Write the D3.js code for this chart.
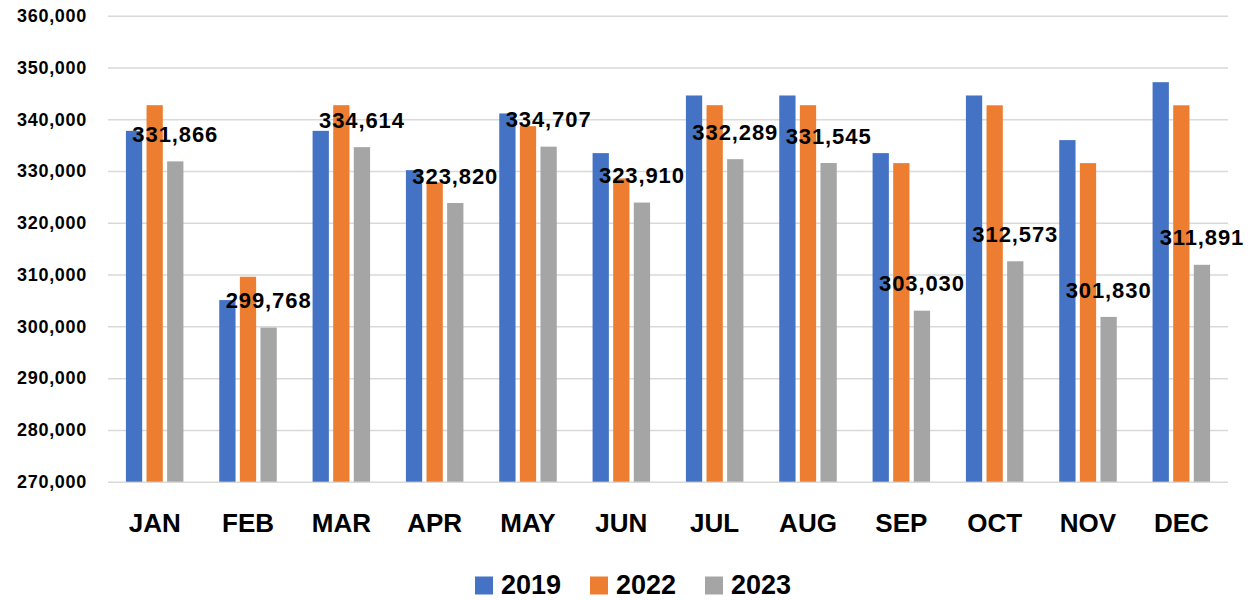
<!DOCTYPE html>
<html>
<head>
<meta charset="utf-8">
<script src="https://cdn.jsdelivr.net/npm/d3@7"></script>
<style>
  html, body { margin: 0; padding: 0; background: #fff; }
  svg { display: block; font-family: "Liberation Sans", Arial, sans-serif; }
</style>
</head>
<body>
<svg id="chart" width="1254" height="600"></svg>
<script>
const months = ["JAN","FEB","MAR","APR","MAY","JUN","JUL","AUG","SEP","OCT","NOV","DEC"];
const seriesNames = ["2019","2022","2023"];
const values2019 = [337760,305080,337760,330170,341120,333460,344590,344590,333460,344590,335970,347160];
const values2022 = [342720,309580,342720,327800,338670,328570,342720,342720,331530,342700,331530,342700];
const values2023 = [331866,299768,334614,323820,334707,323910,332289,331545,303030,312573,301830,311891];
const yTicks = [270000,280000,290000,300000,310000,320000,330000,340000,350000,360000];
const colors = ["#4472C4","#ED7D31","#A5A5A5"];

const seriesValues = [values2019, values2022, values2023];
const svg = d3.select("#chart");

const x0 = d3.scaleBand().domain(months).range([108, 1228]).paddingInner(0.384).paddingOuter(0.192);
const x1 = d3.scaleBand().domain(seriesNames).range([0, x0.bandwidth()]).paddingInner(0.21).paddingOuter(0);
const y = d3.scaleLinear().domain([270000, 360000]).range([481.7, 15.7]);
const fmt = d3.format(",");

// gridlines
const yAxis = d3.axisLeft(y).tickValues(yTicks).tickSize(-(1228 - 108)).tickFormat(fmt).tickPadding(21);
const gy = svg.append("g").attr("transform", "translate(108,0)").call(yAxis);
gy.select(".domain").remove();
gy.selectAll(".tick line").attr("stroke", "#d9d9d9").attr("stroke-width", 1.5);
gy.selectAll(".tick text")
  .attr("fill", "#000")
  .style("font-size", "18px")
  .style("font-weight", "bold")
  .style("letter-spacing", "0.7px")
  .style("font-family", "'Liberation Sans', Arial, sans-serif");

// bars
const groups = svg.append("g").selectAll("g")
  .data(months)
  .join("g")
  .attr("transform", d => `translate(${x0(d)},0)`);

groups.selectAll("rect")
  .data((m, i) => seriesNames.map((s, k) => ({ s, k, v: seriesValues[k][i] })))
  .join("rect")
  .attr("x", d => x1(d.s))
  .attr("width", x1.bandwidth())
  .attr("y", d => y(d.v))
  .attr("height", d => y(270000) - y(d.v))
  .attr("fill", d => colors[d.k]);

// x axis
const xAxis = d3.axisBottom(x0).tickSize(0).tickPadding(0);
const gx = svg.append("g").attr("transform", "translate(0,481.7)").call(xAxis);
gx.select(".domain").remove();
gx.selectAll(".tick text")
  .attr("y", 41)
  .attr("dy", "0.35em")
  .attr("fill", "#000")
  .style("font-size", "26px")
  .style("font-weight", "bold")
  .style("font-family", "'Liberation Sans', Arial, sans-serif");

// data labels for 2023
svg.append("g").selectAll("text")
  .data(months)
  .join("text")
  .attr("x", (m) => x0(m) + x1("2023") + x1.bandwidth() / 2)
  .attr("y", (m, i) => y(values2023[i]) - 27)
  .attr("dy", "0.35em")
  .attr("text-anchor", "middle")
  .attr("fill", "#000")
  .style("font-size", "22px")
  .style("font-weight", "bold")
  .style("letter-spacing", "0.9px")
  .text((m, i) => fmt(values2023[i]));

// legend
const legendX = [475, 590, 705];
const leg = svg.append("g").selectAll("g")
  .data(seriesNames)
  .join("g")
  .attr("transform", (d, i) => `translate(${legendX[i]},0)`);
leg.append("rect").attr("x", 0).attr("y", 576.5).attr("width", 18).attr("height", 18).attr("fill", (d, i) => colors[i]);
leg.append("text").attr("x", 26).attr("y", 585).attr("dy", "0.35em")
  .attr("fill", "#000")
  .style("font-size", "27px").style("font-weight", "bold")
  .text(d => d);
</script>
</body>
</html>
